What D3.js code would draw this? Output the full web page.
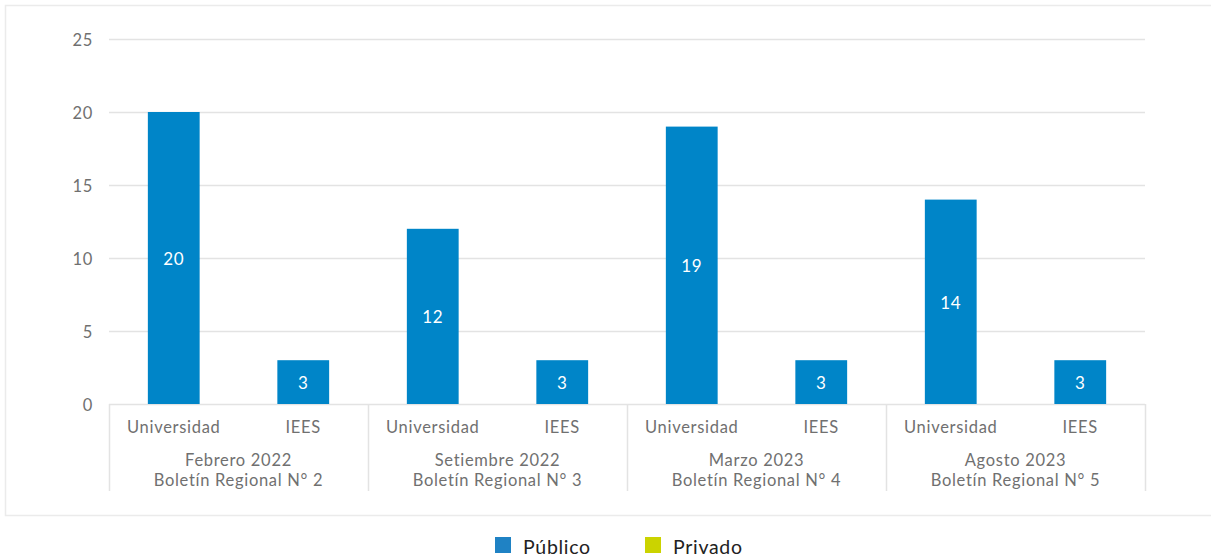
<!DOCTYPE html>
<html>
<head>
<meta charset="utf-8">
<script src="https://cdn.jsdelivr.net/npm/d3@7"></script>
<style>
  body { margin: 0; background: #fff; font-family: Lato, "Noto Sans", sans-serif; }
  svg text { font-family: Lato, "Noto Sans", sans-serif; letter-spacing: 0.7px; }
</style>
</head>
<body>
<svg id="chart" width="1211" height="559"></svg>
<script>
// data
const periods = ["Febrero 2022", "Setiembre 2022", "Marzo 2023", "Agosto 2023"];
const bulletins = ["Boletín Regional N° 2", "Boletín Regional N° 3", "Boletín Regional N° 4", "Boletín Regional N° 5"];
const types = ["Universidad", "IEES"];
const publico = [[20, 3], [12, 3], [19, 3], [14, 3]];
const yTicks = [0, 5, 10, 15, 20, 25];
const legendItems = ["Público", "Privado"];
const legendColors = ["#1f82c4", "#cbd300"];

const barColor = "#0085c8";
const gridColor = "#e3e3e3";
const textColor = "#707070";
const fontSize = 16.5;

const svg = d3.select("#chart");

// outer frame
svg.append("rect")
  .attr("x", 5.5).attr("y", 5.5)
  .attr("width", 1220).attr("height", 510)
  .attr("fill", "none").attr("stroke", "#ebebeb").attr("stroke-width", 1.5);

const plotLeft = 109, plotRight = 1145, plotTop = 39, plotBottom = 404;

const x0 = d3.scaleBand().domain(periods).range([plotLeft, plotRight]);
const x1 = d3.scaleBand().domain(types).range([0, x0.bandwidth()]).paddingInner(0.6).paddingOuter(0.3);
const y = d3.scaleLinear().domain([0, 25]).range([plotBottom, plotTop]);

// gridlines
svg.append("g").selectAll("line")
  .data(yTicks)
  .enter().append("line")
  .attr("x1", plotLeft).attr("x2", plotRight)
  .attr("y1", d => Math.round(y(d)) + 0.5)
  .attr("y2", d => Math.round(y(d)) + 0.5)
  .attr("stroke", gridColor).attr("stroke-width", 1.5);

// y tick labels
svg.append("g").selectAll("text")
  .data(yTicks)
  .enter().append("text")
  .attr("x", 93)
  .attr("y", d => y(d) + 6.5)
  .attr("text-anchor", "end")
  .attr("fill", textColor)
  .attr("font-size", fontSize)
  .text(d => d);

// bars
const groups = svg.append("g").selectAll("g")
  .data(periods)
  .enter().append("g")
  .attr("transform", d => "translate(" + x0(d) + ",0)");

groups.selectAll("rect")
  .data((d, i) => types.map((t, j) => ({ t: t, v: publico[i][j] })))
  .enter().append("rect")
  .attr("x", d => x1(d.t))
  .attr("width", x1.bandwidth())
  .attr("y", d => y(d.v))
  .attr("height", d => y(0) - y(d.v))
  .attr("fill", barColor);

groups.selectAll(".val")
  .data((d, i) => types.map((t, j) => ({ t: t, v: publico[i][j] })))
  .enter().append("text")
  .attr("class", "val")
  .attr("x", d => x1(d.t) + x1.bandwidth() / 2)
  .attr("y", d => (y(d.v) + y(0)) / 2 + 7)
  .attr("text-anchor", "middle")
  .attr("fill", "#fff")
  .attr("font-size", 17)
  .text(d => d.v);

// category axis separators
const seps = d3.range(periods.length + 1).map(i => plotLeft + i * x0.bandwidth());
svg.append("g").selectAll("line")
  .data(seps)
  .enter().append("line")
  .attr("x1", d => Math.round(d) + 0.5).attr("x2", d => Math.round(d) + 0.5)
  .attr("y1", plotBottom).attr("y2", 491)
  .attr("stroke", gridColor).attr("stroke-width", 1.5);

// sub labels
groups.selectAll(".sub")
  .data(types)
  .enter().append("text")
  .attr("class", "sub")
  .attr("x", d => x1(d) + x1.bandwidth() / 2)
  .attr("y", 433)
  .attr("text-anchor", "middle")
  .attr("fill", textColor)
  .attr("font-size", fontSize)
  .text(d => d);

groups.append("text")
  .attr("x", x0.bandwidth() / 2)
  .attr("y", 466)
  .attr("text-anchor", "middle")
  .attr("fill", textColor)
  .attr("font-size", fontSize)
  .text(d => d);

groups.append("text")
  .attr("x", x0.bandwidth() / 2)
  .attr("y", 486)
  .attr("text-anchor", "middle")
  .attr("fill", textColor)
  .attr("font-size", fontSize)
  .text((d, i) => bulletins[i]);

// legend
const legend = svg.append("g").selectAll("g")
  .data(legendItems)
  .enter().append("g")
  .attr("transform", (d, i) => "translate(" + (495 + i * 150) + ",537)");

legend.append("rect")
  .attr("width", 16).attr("height", 16)
  .attr("fill", (d, i) => legendColors[i]);

legend.append("text")
  .attr("x", 28).attr("y", 17)
  .attr("fill", "#222")
  .attr("font-size", 19.5)
  .text(d => d);
</script>
</body>
</html>
